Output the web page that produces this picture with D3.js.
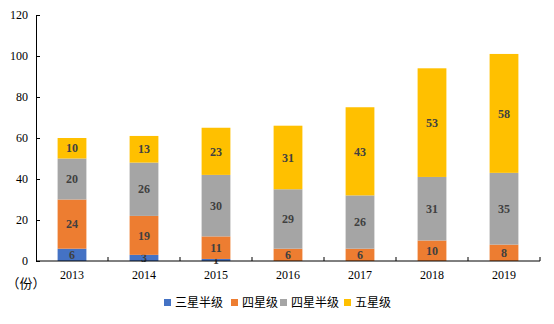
<!DOCTYPE html>
<html><head><meta charset="utf-8">
<script src="https://cdn.jsdelivr.net/npm/d3@7"></script>
<style>body{margin:0;background:#fff}</style>
</head><body>
<svg id="c" width="554" height="324"></svg>
<script>
const years = ["2013","2014","2015","2016","2017","2018","2019"];
const seriesNames = ["三星半级","四星级","四星半级","五星级"];
const s35 = [6,3,1,0,0,0,0];
const s4  = [24,19,11,6,6,10,8];
const s45 = [20,26,30,29,26,31,35];
const s5  = [10,13,23,31,43,53,58];
const yTicks = [0,20,40,60,80,100,120];
const colors = ["#4472C4","#ED7D31","#A5A5A5","#FFC000"];

const rows = years.map((y,i)=>({year:y, "三星半级":s35[i], "四星级":s4[i], "四星半级":s45[i], "五星级":s5[i]}));
const stack = d3.stack().keys(seriesNames)(rows);

const svg = d3.select("#c");
const m = {l:36, r:14, t:15, b:63};
const W = 554, H = 324;
const x = d3.scaleBand().domain(years).range([m.l, W-m.r]).paddingInner(0.6).paddingOuter(0.3);
const y = d3.scaleLinear().domain([0,120]).range([H-m.b, m.t]);

const g = svg.append("g");
stack.forEach((layer,k)=>{
  g.selectAll(null).data(layer).enter().append("rect")
    .attr("x", d=>x(d.data.year))
    .attr("width", x.bandwidth())
    .attr("y", d=>y(d[1]))
    .attr("height", d=>y(d[0])-y(d[1]))
    .attr("fill", colors[k]);
  g.selectAll(null).data(layer.filter(d=>d[1]-d[0]>0)).enter().append("text")
    .attr("x", d=>x(d.data.year)+x.bandwidth()/2)
    .attr("y", d=>(y(d[0])+y(d[1]))/2)
    .attr("dy","0.35em")
    .attr("text-anchor","middle")
    .attr("font-family","'Liberation Serif','Times New Roman',serif")
    .attr("font-weight","bold")
    .attr("font-size","12px")
    .attr("fill","#404040")
    .text(d=>d[1]-d[0]);
});

// Y axis
const yAxis = svg.append("g").attr("transform",`translate(${m.l},0)`)
  .call(d3.axisRight(y).tickValues(yTicks).tickSize(4).tickFormat(d3.format("d")));
yAxis.select(".domain").attr("stroke","#000");
yAxis.selectAll(".tick line").attr("stroke","#000");
yAxis.selectAll(".tick text").attr("x",-8).attr("text-anchor","end")
  .attr("font-family","'Liberation Serif','Times New Roman',serif").attr("font-size","12px").attr("fill","#000");

// X axis
const step = x.step();
const bounds = d3.range(years.length+1).map(i=>m.l + i*(W-m.r-m.l)/years.length);
const xg = svg.append("g");
xg.append("line").attr("x1",m.l).attr("x2",W-m.r).attr("y1",y(0)).attr("y2",y(0)).attr("stroke","#000");
xg.selectAll(null).data(bounds.slice(1)).enter().append("line")
  .attr("x1",d=>d).attr("x2",d=>d).attr("y1",y(0)).attr("y2",y(0)-4).attr("stroke","#000");
xg.selectAll(null).data(years).enter().append("text")
  .attr("x",d=>x(d)+x.bandwidth()/2).attr("y",y(0)+18)
  .attr("text-anchor","middle")
  .attr("font-family","'Liberation Serif','Times New Roman',serif").attr("font-size","12px").attr("fill","#000")
  .text(d=>d);

svg.append("text").attr("x",26).attr("y",288).attr("text-anchor","middle")
  .attr("font-family","'Noto Sans CJK SC',sans-serif").attr("font-size","13px").attr("fill","#000").text("（份）");

// Legend
const legX = [164,231,280,344];
const lg = svg.append("g");
seriesNames.forEach((n,i)=>{
  lg.append("rect").attr("x",legX[i]).attr("y",299).attr("width",7).attr("height",7).attr("fill",colors[i]);
  lg.append("text").attr("x",legX[i]+11).attr("y",303).attr("dy","0.35em")
    .attr("font-family","'Noto Sans CJK SC',sans-serif").attr("font-size","12px").attr("fill","#000").text(n);
});
</script>
</body></html>
